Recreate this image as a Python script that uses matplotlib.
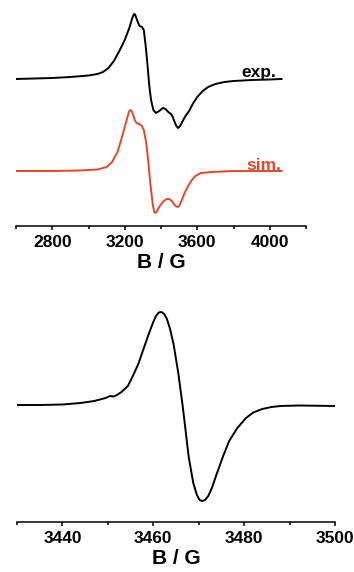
import matplotlib
matplotlib.use('Agg')
import matplotlib.pyplot as plt
from matplotlib.ticker import MultipleLocator

plt.rcParams['font.family'] = ['Liberation Sans', 'DejaVu Sans']
plt.rcParams['font.weight'] = 'bold'

# top panel: experimental and simulated spectra (arbitrary units, baseline 0)
exp_B = [2600, 2700, 2800, 2900, 3000, 3050, 3080, 3110, 3140, 3170, 3200, 3225,
         3240, 3247, 3252, 3257, 3262, 3272, 3282, 3295, 3305, 3315, 3325, 3335,
         3345, 3358, 3372, 3390, 3410, 3425, 3440, 3455, 3465, 3475, 3485, 3494,
         3505, 3520, 3535, 3555, 3575, 3600, 3630, 3660, 3700, 3750, 3800, 3900,
         4000, 4065]
exp_I = [0, 0.5, 1, 2, 3.5, 5, 7, 11, 18, 28, 39, 51,
         60, 63.5, 65, 64.5, 62, 57, 53, 52, 49, 34, 15, -6,
         -21, -31, -34, -32, -29, -30, -33, -35, -38, -43, -47, -49,
         -47, -42, -37, -32, -25, -18, -12, -8, -5, -3, -2, -1,
         -0.5, 0]

sim_B = [2600, 2800, 2950, 3050, 3100, 3130, 3160, 3180, 3200, 3215, 3224, 3231,
         3238, 3245, 3255, 3265, 3280, 3295, 3305, 3318, 3330, 3342, 3355, 3362,
         3368, 3375, 3390, 3410, 3430, 3445, 3460, 3475, 3485, 3492, 3500, 3515,
         3530, 3550, 3570, 3590, 3620, 3680, 3800, 4065]
sim_I = [0, 0, 0.5, 1.5, 4, 9, 19, 31, 44, 54, 59.5, 61,
         60, 57, 51, 48, 47, 45, 41, 29, 9, -14, -34, -40.5,
         -42, -41, -36, -31, -28, -28, -30, -34, -35.5, -36, -35, -29,
         -22, -15, -9, -5, -2, -1, 0, 0]
sim_offset = -92

# bottom panel: narrow sweep
low_B = [3430, 3435, 3440, 3444, 3447, 3449.5, 3450.5, 3451.3, 3452, 3453, 3454.4,
         3455.5, 3456.7, 3458, 3459, 3460, 3460.6, 3461.2, 3461.8, 3462.4, 3463,
         3463.7, 3464.5, 3465.5, 3466.5, 3467.8, 3468.8, 3469.6, 3470.2, 3470.8,
         3471.4, 3472.1, 3472.9, 3473.8, 3475.3, 3476.7, 3478.5, 3480.4, 3482, 3484,
         3486, 3488, 3492, 3500]
low_I = [0, 0, 0.5, 2, 4, 7, 9, 8.5, 10, 13, 19,
         29, 41, 58, 71, 83, 89, 92.5, 93, 91, 86,
         76, 60, 32, -2, -52, -78, -90, -95, -96,
         -95, -91, -83, -71, -52, -36, -23, -13, -7.5, -4,
         -2, -1, -0.5, -1]

red = '#e5472d'

fig = plt.figure(figsize=(3.54, 5.72), dpi=100)


def style_axis(ax):
    for s in ['left', 'right', 'top']:
        ax.spines[s].set_visible(False)
    ax.spines['bottom'].set_linewidth(1.1)
    ax.set_yticks([])
    ax.tick_params(axis='x', which='major', direction='out', length=3, width=1.1,
                   labelsize=12.5, pad=3.5)
    ax.tick_params(axis='x', which='minor', direction='out', length=2.5, width=1.1)
    ax.set_xlabel('B / G', fontsize=15, fontweight='bold', labelpad=2)
    ax.patch.set_alpha(0)


ax1 = fig.add_axes([16/354, 1 - 226/572, 290/354, 221/572])
ax1.plot(exp_B, exp_I, color='black', lw=1.4)
ax1.plot(sim_B, [v + sim_offset for v in sim_I], color=red, lw=1.4)
ax1.text(3940, 2, 'exp.', ha='center', va='baseline', fontsize=12.5,
         fontweight='bold', color='black')
ax1.text(3967, sim_offset + 1, 'sim.', ha='center', va='baseline', fontsize=12.5,
         fontweight='bold', color=red)
ax1.set_xlim(2600, 4200)
ax1.set_ylim(-147, 74)
ax1.set_xticks([2800, 3200, 3600, 4000])
ax1.xaxis.set_minor_locator(MultipleLocator(200))
style_axis(ax1)

ax2 = fig.add_axes([17/354, 1 - 522/572, 318/354, 232/572])
ax2.plot(low_B, low_I, color='black', lw=1.4)
ax2.set_xlim(3430, 3500)
ax2.set_ylim(-117, 115)
ax2.set_xticks([3440, 3460, 3480, 3500])
ax2.xaxis.set_minor_locator(MultipleLocator(10))
style_axis(ax2)

fig.savefig('out.png', dpi=100)
